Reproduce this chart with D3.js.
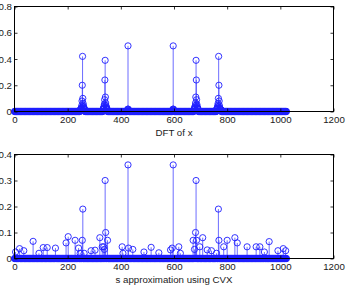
<!DOCTYPE html>
<html>
<head>
<meta charset="utf-8">
<script src="https://cdn.jsdelivr.net/npm/d3@7"></script>
<style>
  body { margin: 0; background: #fff; }
  svg { display: block; }
  text { font-family: "Liberation Sans", Arial, sans-serif; fill: #1a1a1a; }
</style>
</head>
<body>
<script>
  // number of DFT bins; every bin not listed below sits at 0
  const nBins = 1024;

  const xTicks = [0, 200, 400, 600, 800, 1000, 1200];
  const topYTicks = [0, 0.2, 0.4, 0.6, 0.8];
  const botYTicks = [0, 0.1, 0.2, 0.3, 0.4];

  // |DFT of x|, non-zero bins as [index, value]
  const dftPeaks = [
    [247, 0.011], [248, 0.013], [249, 0.016], [250, 0.02], [251, 0.024], [252, 0.03],
    [253, 0.045], [254, 0.08], [255, 0.2], [256, 0.42], [257, 0.1], [258, 0.062],
    [259, 0.046], [260, 0.036], [261, 0.028], [262, 0.022], [263, 0.018], [264, 0.014],
    [333, 0.016], [334, 0.02], [335, 0.024], [336, 0.03], [337, 0.04], [338, 0.055],
    [339, 0.09], [340, 0.24], [341, 0.39], [342, 0.11], [343, 0.065], [344, 0.045],
    [345, 0.035], [346, 0.028], [347, 0.022], [348, 0.018], [349, 0.015],
    [425, 0.01], [426, 0.018], [427, 0.5], [428, 0.018], [429, 0.01],
    [595, 0.01], [596, 0.018], [597, 0.5], [598, 0.018], [599, 0.01],
    [675, 0.015], [676, 0.018], [677, 0.022], [678, 0.028], [679, 0.035], [680, 0.045],
    [681, 0.065], [682, 0.11], [683, 0.39], [684, 0.24], [685, 0.09], [686, 0.055],
    [687, 0.04], [688, 0.03], [689, 0.024], [690, 0.02], [691, 0.016],
    [760, 0.014], [761, 0.018], [762, 0.022], [763, 0.028], [764, 0.036], [765, 0.046],
    [766, 0.062], [767, 0.1], [768, 0.42], [769, 0.2], [770, 0.08], [771, 0.045],
    [772, 0.03], [773, 0.024], [774, 0.02], [775, 0.016], [776, 0.013], [777, 0.011]
  ];

  // s approximation using CVX, non-zero bins as [index, value]
  const cvxPeaks = [
    [4, 0.025], [19, 0.038], [35, 0.03], [70, 0.066], [92, 0.02], [108, 0.042],
    [123, 0.042], [154, 0.04], [194, 0.06], [202, 0.084], [228, 0.07], [241, 0.04],
    [247, 0.02], [255, 0.07], [257, 0.19], [262, 0.02], [288, 0.03], [303, 0.032],
    [321, 0.08], [330, 0.045], [336, 0.045], [338, 0.035], [341, 0.3], [343, 0.1],
    [350, 0.07], [405, 0.045], [408, 0.02], [427, 0.36], [429, 0.04], [445, 0.035],
    [487, 0.025], [514, 0.043], [543, 0.022], [587, 0.033], [593, 0.04], [597, 0.36],
    [618, 0.045], [624, 0.02], [672, 0.07], [677, 0.035], [681, 0.1], [683, 0.3],
    [685, 0.07], [697, 0.045], [708, 0.08], [725, 0.033], [741, 0.03], [760, 0.02],
    [767, 0.19], [769, 0.07], [787, 0.045], [800, 0.07], [829, 0.08], [838, 0.06],
    [875, 0.045], [909, 0.045], [923, 0.045], [940, 0.025], [958, 0.065], [991, 0.03],
    [1011, 0.038], [1020, 0.03]
  ];

  const width = 353;
  const height = 290;

  const svg = d3.select('body')
          .append('svg')
          .attr('width', width)
          .attr('height', height);

  function series(peaks) {
    const vals = new Array(nBins).fill(0);
    peaks.forEach(([i, v]) => { vals[i] = v; });
    return vals.map((v, i) => ({ i: i, v: v }));
  }

  function panel(top, bottom, yMax, yTicks, data, label) {
    const x = d3.scaleLinear().domain([0, 1200]).range([14.5, 333.5]);
    const y = d3.scaleLinear().domain([0, yMax]).range([bottom, top]);
    const g = svg.append('g');

    // stems
    g.append('g')
            .selectAll('line')
            .data(data)
            .enter()
            .append('line')
            .attr('x1', d => x(d.i))
            .attr('x2', d => x(d.i))
            .attr('y1', y(0))
            .attr('y2', d => y(d.v))
            .attr('stroke', '#4848ff')
            .attr('stroke-width', 0.8);

    // markers
    g.append('g')
            .selectAll('circle')
            .data(data)
            .enter()
            .append('circle')
            .attr('cx', d => x(d.i))
            .attr('cy', d => y(d.v))
            .attr('r', 3.1)
            .attr('fill', 'none')
            .attr('stroke', '#1e1eff')
            .attr('stroke-width', 0.9);

    const fmt = d => String(d);

    g.append('g')
            .attr('transform', `translate(0,${bottom})`)
            .call(d3.axisBottom(x).tickValues(xTicks).tickFormat(fmt)
                    .tickSizeInner(-3).tickSizeOuter(0).tickPadding(5));
    g.append('g')
            .attr('transform', `translate(0,${top})`)
            .call(d3.axisTop(x).tickValues(xTicks).tickFormat('')
                    .tickSizeInner(-3).tickSizeOuter(0));
    g.append('g')
            .attr('transform', `translate(${x(0)},0)`)
            .call(d3.axisLeft(y).tickValues(yTicks).tickFormat(fmt)
                    .tickSizeInner(-3).tickSizeOuter(0).tickPadding(2.5));
    g.append('g')
            .attr('transform', `translate(${x(1200)},0)`)
            .call(d3.axisRight(y).tickValues(yTicks).tickFormat('')
                    .tickSizeInner(-3).tickSizeOuter(0));

    g.selectAll('.domain').remove();
    g.selectAll('.tick line').attr('stroke', '#000').attr('stroke-width', 0.8);
    g.selectAll('.tick text')
            .attr('font-size', '9.7px')
            .attr('font-family', '"Liberation Sans", Arial, sans-serif')
            .attr('fill', '#1a1a1a');

    g.append('rect')
            .attr('x', x(0))
            .attr('y', top)
            .attr('width', x(1200) - x(0))
            .attr('height', bottom - top)
            .attr('fill', 'none')
            .attr('stroke', '#000')
            .attr('stroke-width', 1);

    g.append('text')
            .attr('x', (x(0) + x(1200)) / 2)
            .attr('y', bottom + 24)
            .attr('text-anchor', 'middle')
            .attr('font-size', '9.7px')
            .text(label);
  }

  panel(6.5, 111.5, 0.8, topYTicks, series(dftPeaks), 'DFT of x');
  panel(154.5, 258.5, 0.4, botYTicks, series(cvxPeaks), 's approximation using CVX');
</script>
</body>
</html>
